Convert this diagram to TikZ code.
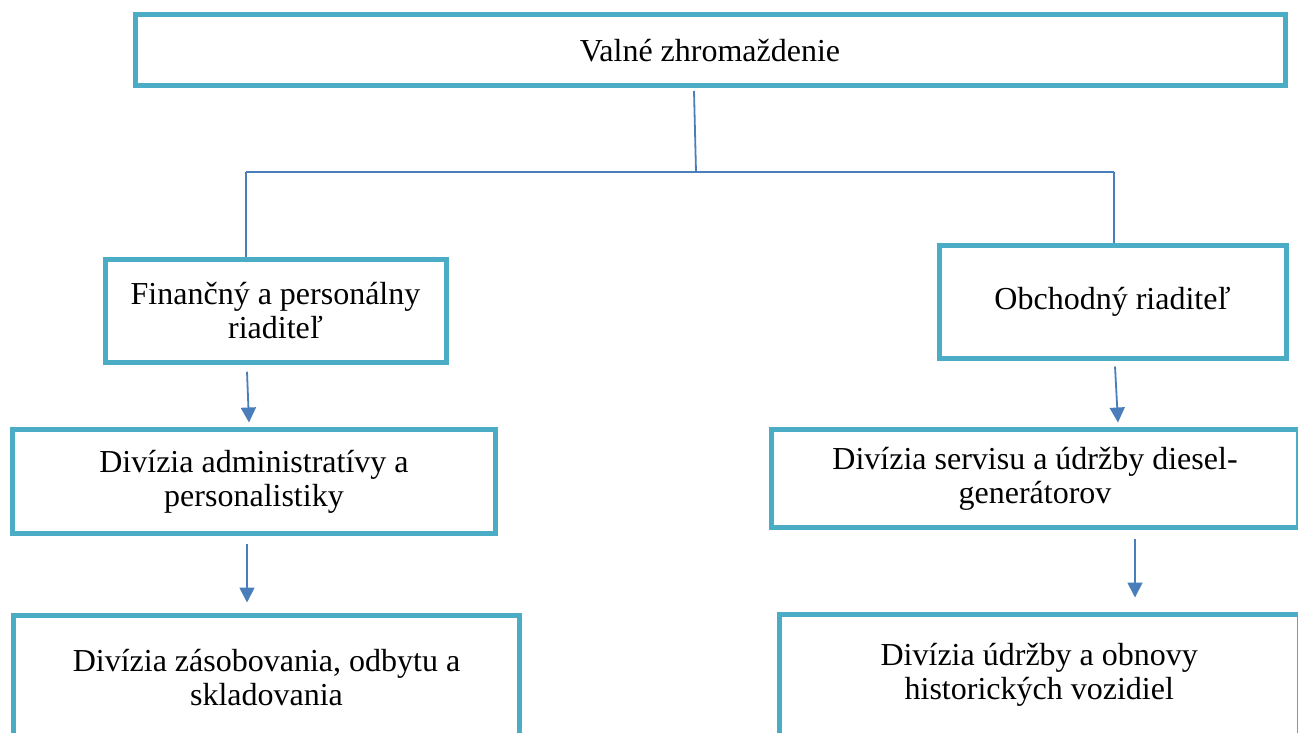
\documentclass[tikz,border=0pt]{standalone}
\usepackage{fontspec}
\setmainfont{Liberation Serif}
\usetikzlibrary{arrows.meta}
\definecolor{boxteal}{HTML}{4BACC6}
\definecolor{linkblue}{HTML}{4A7EBB}
\begin{document}
\begin{tikzpicture}[x=1pt,y=-1pt,
  orgbox/.style={draw=boxteal,line width=5pt,rectangle,inner sep=0pt,align=center,
    font=\fontsize{32}{34}\selectfont,text=black},
  link/.style={draw=linkblue,line width=1.8pt},
  arr/.style={draw=linkblue,line width=1.8pt,-{Triangle[width=15pt,length=15pt]}}]
\useasboundingbox (0,0) rectangle (1298,733);
\coordinate (jM) at (696,172);
\coordinate (jL) at (246,172);
\coordinate (jR) at (1114,172);
\node[orgbox,minimum width=1150pt,minimum height=71pt] (top) at (710,50.5) {Valné zhromaždenie};
\node[orgbox,minimum width=341pt,minimum height=102.5pt] (fp) at (275.5,311) {Finančný a personálny\\riaditeľ};
\node[orgbox,minimum width=347pt,minimum height=113pt] (or) at (1112.5,301.5) {Obchodný riaditeľ};
\node[orgbox,minimum width=483pt,minimum height=104pt] (da) at (254,481.5) {Divízia administratívy a\\personalistiky};
\node[orgbox,minimum width=527.5pt,minimum height=98pt] (ds) at (1035,478.5) {Divízia servisu a údržby diesel-\\generátorov};
\node[orgbox,minimum width=506pt,minimum height=124.5pt] (dz) at (266.5,677.75) {Divízia zásobovania, odbytu a\\skladovania};
\node[orgbox,minimum width=520.5pt,minimum height=120.5pt] (du) at (1039.25,674.75) {Divízia údržby a obnovy\\historických vozidiel};
\draw[link] ([shift={(-16,2.5)}]top.south) -- (jM);
\draw[link] (jL) -- (jR);
\draw[link] (jL) -- (jL |- fp.north);
\draw[link] (jR) -- (jR |- or.north);
\draw[arr] ([shift={(-28.5,7)}]fp.south) -- ([shift={(-5,-4.5)}]da.north);
\draw[arr] ([shift={(-7,7.5)}]da.south) -- ([shift={(-19.5,-10.5)}]dz.north);
\draw[arr] ([shift={(2.5,6)}]or.south) -- ([shift={(83,-4.5)}]ds.north);
\draw[arr] ([shift={(100,8.5)}]ds.south) -- ([shift={(95.75,-14.5)}]du.north);
\end{tikzpicture}
\end{document}
